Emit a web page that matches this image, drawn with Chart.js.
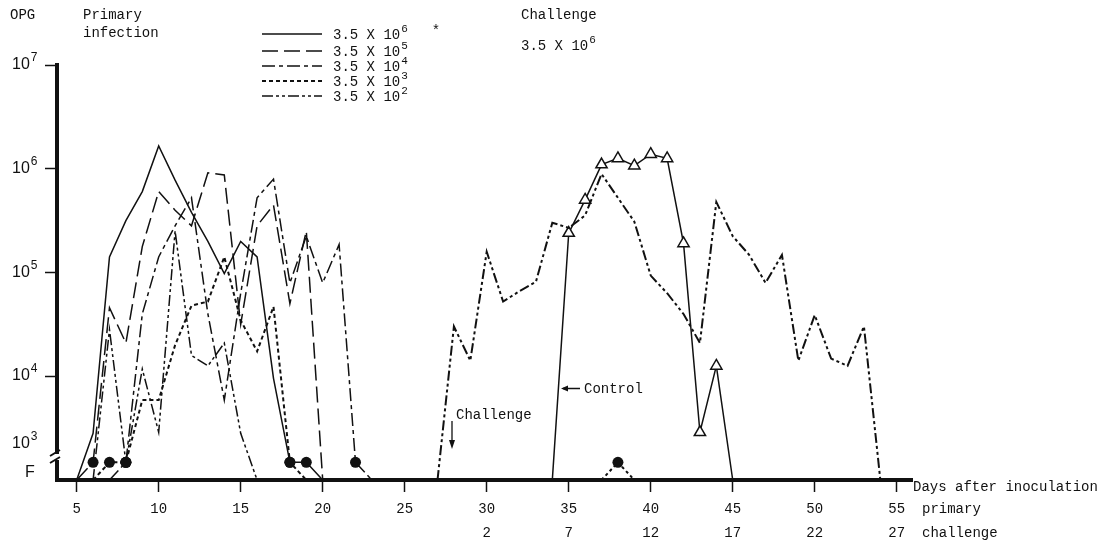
<!DOCTYPE html>
<html>
<head>
<meta charset="utf-8">
<script src="https://cdn.jsdelivr.net/npm/chart.js@4.4.0/dist/chart.umd.min.js"></script>
<style>
  html, body { margin: 0; padding: 0; background: #fff; }
</style>
</head>
<body>
<canvas id="opg" width="1105" height="541"></canvas>
<script>
// values are log10(OPG); 0 = nothing on the axis, "F" = the F row (filled circle), null = no point
const primaryDays = [5, 6, 7, 8, 9, 10, 11, 12, 13, 14, 15, 16, 17, 18, 19, 20, 21, 22, 23];
const opg1e6 = [0, 3.45, 5.15, 5.5, 5.78, 6.22, 5.89, 5.58, 5.3, 4.99, 5.3, 5.15, 3.98, "F", "F", 0, null, null, null];
const opg1e5 = [0, "F", 4.66, 4.32, 5.25, 5.78, 5.6, 5.45, 5.96, 5.94, 4.5, 5.45, 5.65, 4.7, 5.4, 0, null, null, null];
const opg1e4 = [null, null, 0, "F", 4.6, 5.15, 5.45, 5.72, 4.6, 3.77, 4.8, 5.72, 5.9, 4.9, 5.35, 4.9, 5.27, "F", 0];
const opg1e3 = [null, 0, "F", "F", 3.77, 3.77, 4.3, 4.68, 4.72, 5.15, 4.54, 4.24, 4.67, "F", 0, null, null, null, null];
const opg1e2 = [null, 0, 4.45, "F", 4.07, 3.46, 5.4, 4.2, 4.1, 4.32, 3.45, 0, null, null, null, null, null, null, null];

const challengeDays = [27, 28, 29, 30, 31, 32, 33, 34, 35, 36, 37, 38, 39, 40, 41, 42, 43, 44, 45, 46, 47, 48, 49, 50, 51, 52, 53, 54];
const opgChallenged = [0, 4.48, 4.15, 5.2, 4.72, 4.82, 4.91, 5.48, 5.43, 5.55, 5.95, 5.72, 5.49, 4.97, 4.8, 4.6, 4.32, 5.68, 5.35, 5.17, 4.9, 5.17, 4.15, 4.59, 4.17, 4.1, 4.48, 0];
const opgControl = [null, null, null, null, null, null, null, 0, 5.38, 5.7, 6.04, 6.1, 6.03, 6.14, 6.1, 5.28, 3.46, 4.1, 0, null, null, null, null, null, null, null, null, null];
const opgChallengedLow = [null, null, null, null, null, null, null, null, null, null, 0, "F", 0, null, null, null, null, null, null, null, null, null, null, null, null, null, null, null];

const doseExps = ["6", "5", "4", "3", "2"];
const dayTicks = [5, 10, 15, 20, 25, 30, 35, 40, 45, 50, 55];
const challengeTicks = ["", "", "", "", "", "2", "7", "12", "17", "22", "27"];
const decadeTicks = [4, 5, 6, 7];

const BASE = 3.0;
const F_ROW = 3.17;
const INK = "#111";
const MONO = "'Liberation Mono', 'DejaVu Sans Mono', monospace";
const SANS = "'Liberation Sans', Arial, sans-serif";

function toY(v) {
  if (v === "F") return F_ROW;
  if (v === 0) return BASE;
  return v;
}
function points(days, vals) {
  const out = [];
  days.forEach((d, i) => {
    if (vals[i] !== null) out.push({ x: d, y: toY(vals[i]) });
  });
  return out;
}
const dotRadius = (c) => (c.raw && c.raw.y === F_ROW ? 5.5 : 0);

function series(label, days, vals, dash, extra) {
  return Object.assign({
    label: label,
    data: points(days, vals),
    borderColor: INK,
    backgroundColor: INK,
    borderWidth: 1.5,
    borderDash: dash,
    pointRadius: dotRadius,
    pointBackgroundColor: INK,
    pointBorderWidth: 0,
    tension: 0,
    clip: false,
  }, extra || {});
}

const datasets = [
  series("3.5 X 10^6", primaryDays, opg1e6, []),
  series("3.5 X 10^5", primaryDays, opg1e5, [16, 6]),
  series("3.5 X 10^4", primaryDays, opg1e4, [13, 4, 4, 4]),
  series("3.5 X 10^3", primaryDays, opg1e3, [4, 3], { borderWidth: 2 }),
  series("3.5 X 10^2", primaryDays, opg1e2, [11, 3, 3, 3, 3, 3]),
  series("challenged", challengeDays, opgChallenged, [10, 3, 3, 3, 3, 3], { borderWidth: 2 }),
  series("Control", challengeDays, opgControl, [], {
    pointStyle: "triangle",
    pointRadius: (c) => (c.raw && c.raw.y > BASE ? 6.5 : 0),
    pointBackgroundColor: "#fff",
    pointBorderColor: INK,
    pointBorderWidth: 1.5,
  }),
  series("challenged low", challengeDays, opgChallengedLow, [3, 3], { borderWidth: 2 }),
];

// superscript text helper, e.g. 10 with a raised exponent
function powText(ctx, x, y, base, exp, size, supSize, family) {
  ctx.font = size + "px " + family;
  ctx.textBaseline = "alphabetic";
  ctx.textAlign = "left";
  ctx.fillText(base, x, y);
  const w = ctx.measureText(base).width;
  ctx.font = supSize + "px " + family;
  ctx.fillText(exp, x + w + 1, y - size * 0.5);
  return x + w + 1 + ctx.measureText(exp).width;
}

const paperText = {
  id: "paperText",
  afterDraw(chart) {
    const ctx = chart.ctx;
    const xs = chart.scales.x;
    const ys = chart.scales.y;
    ctx.save();
    ctx.fillStyle = INK;
    ctx.strokeStyle = INK;

    // y labels
    decadeTicks.forEach((e) => {
      powText(ctx, 12, ys.getPixelForValue(e) + 4, "10", String(e), 16, 12, SANS);
    });
    powText(ctx, 12, 448, "10", "3", 16, 12, SANS);
    ctx.font = "16px " + SANS;
    ctx.fillText("F", 25, 477);

    // axis break
    ctx.fillStyle = "#fff";
    ctx.fillRect(50, 454, 10, 6);
    ctx.fillStyle = INK;
    ctx.lineWidth = 2;
    ctx.beginPath();
    ctx.moveTo(50, 456); ctx.lineTo(60, 450);
    ctx.moveTo(50, 463); ctx.lineTo(60, 457);
    ctx.stroke();

    // header texts
    ctx.font = "14px " + MONO;
    ctx.textBaseline = "middle";
    ctx.fillText("OPG", 10, 15);
    ctx.fillText("Primary", 83, 15);
    ctx.fillText("infection", 83, 33);
    ctx.fillText("Challenge", 521, 15);
    ctx.textBaseline = "alphabetic";
    powText(ctx, 521, 50, "3.5 X 10", "6", 14, 11, MONO);

    // legend for the five primary doses
    const legendY = [34, 51, 66, 81, 96];
    doseExps.forEach((exp, i) => {
      const ds = chart.data.datasets[i];
      ctx.lineWidth = ds.borderWidth;
      ctx.setLineDash(ds.borderDash);
      ctx.beginPath();
      ctx.moveTo(262, legendY[i]);
      ctx.lineTo(322, legendY[i]);
      ctx.stroke();
      ctx.setLineDash([]);
      const end = powText(ctx, 333, legendY[i] + 5, "3.5 X 10", exp, 14, 11, MONO);
      if (i === 0) {
        ctx.font = "14px " + MONO;
        ctx.fillText("*", end + 24, legendY[i] + 1);
      }
    });

    // annotations
    ctx.font = "14px " + MONO;
    ctx.textBaseline = "middle";
    ctx.fillText("Control", 584, 389);
    ctx.fillText("Challenge", 456, 415);
    ctx.fillText("Days after inoculation", 913, 487);
    ctx.fillText("primary", 922, 509);
    ctx.fillText("challenge", 922, 533);

    ctx.lineWidth = 1.3;
    ctx.beginPath();
    ctx.moveTo(580, 388.5); ctx.lineTo(563, 388.5);
    ctx.moveTo(452, 421); ctx.lineTo(452, 446);
    ctx.stroke();
    ctx.beginPath();
    ctx.moveTo(561, 388.5); ctx.lineTo(568, 385.5); ctx.lineTo(568, 391.5); ctx.closePath();
    ctx.moveTo(452, 449); ctx.lineTo(449, 440); ctx.lineTo(455, 440); ctx.closePath();
    ctx.fill();
    ctx.restore();
  },
};

new Chart(document.getElementById("opg"), {
  type: "line",
  data: { datasets: datasets },
  plugins: [paperText],
  options: {
    responsive: false,
    animation: false,
    devicePixelRatio: 1,
    layout: { padding: { left: 0, top: 65, right: 193, bottom: 0 } },
    plugins: { legend: { display: false }, tooltip: { enabled: false } },
    scales: {
      x: {
        type: "linear",
        min: 3.8,
        max: 55.93,
        afterFit: (s) => { s.height = 61; },
        afterBuildTicks: (s) => { s.ticks = dayTicks.map((v) => ({ value: v })); },
        border: { display: true, color: INK, width: 4 },
        grid: { drawOnChartArea: false, color: INK, tickLength: 12, tickWidth: 1.5 },
        ticks: {
          autoSkip: false,
          maxRotation: 0,
          padding: 5,
          color: INK,
          font: { family: MONO, size: 14, lineHeight: "24px" },
          callback: (v) => [String(v), challengeTicks[dayTicks.indexOf(v)] || ""],
        },
      },
      y: {
        type: "linear",
        min: BASE,
        max: 7,
        afterFit: (s) => { s.width = 57; },
        afterBuildTicks: (s) => { s.ticks = decadeTicks.map((v) => ({ value: v })); },
        border: { display: true, color: INK, width: 4 },
        grid: { drawOnChartArea: false, color: INK, tickLength: 12, tickWidth: 1.5 },
        ticks: { display: false },
      },
    },
  },
});
</script>
</body>
</html>
